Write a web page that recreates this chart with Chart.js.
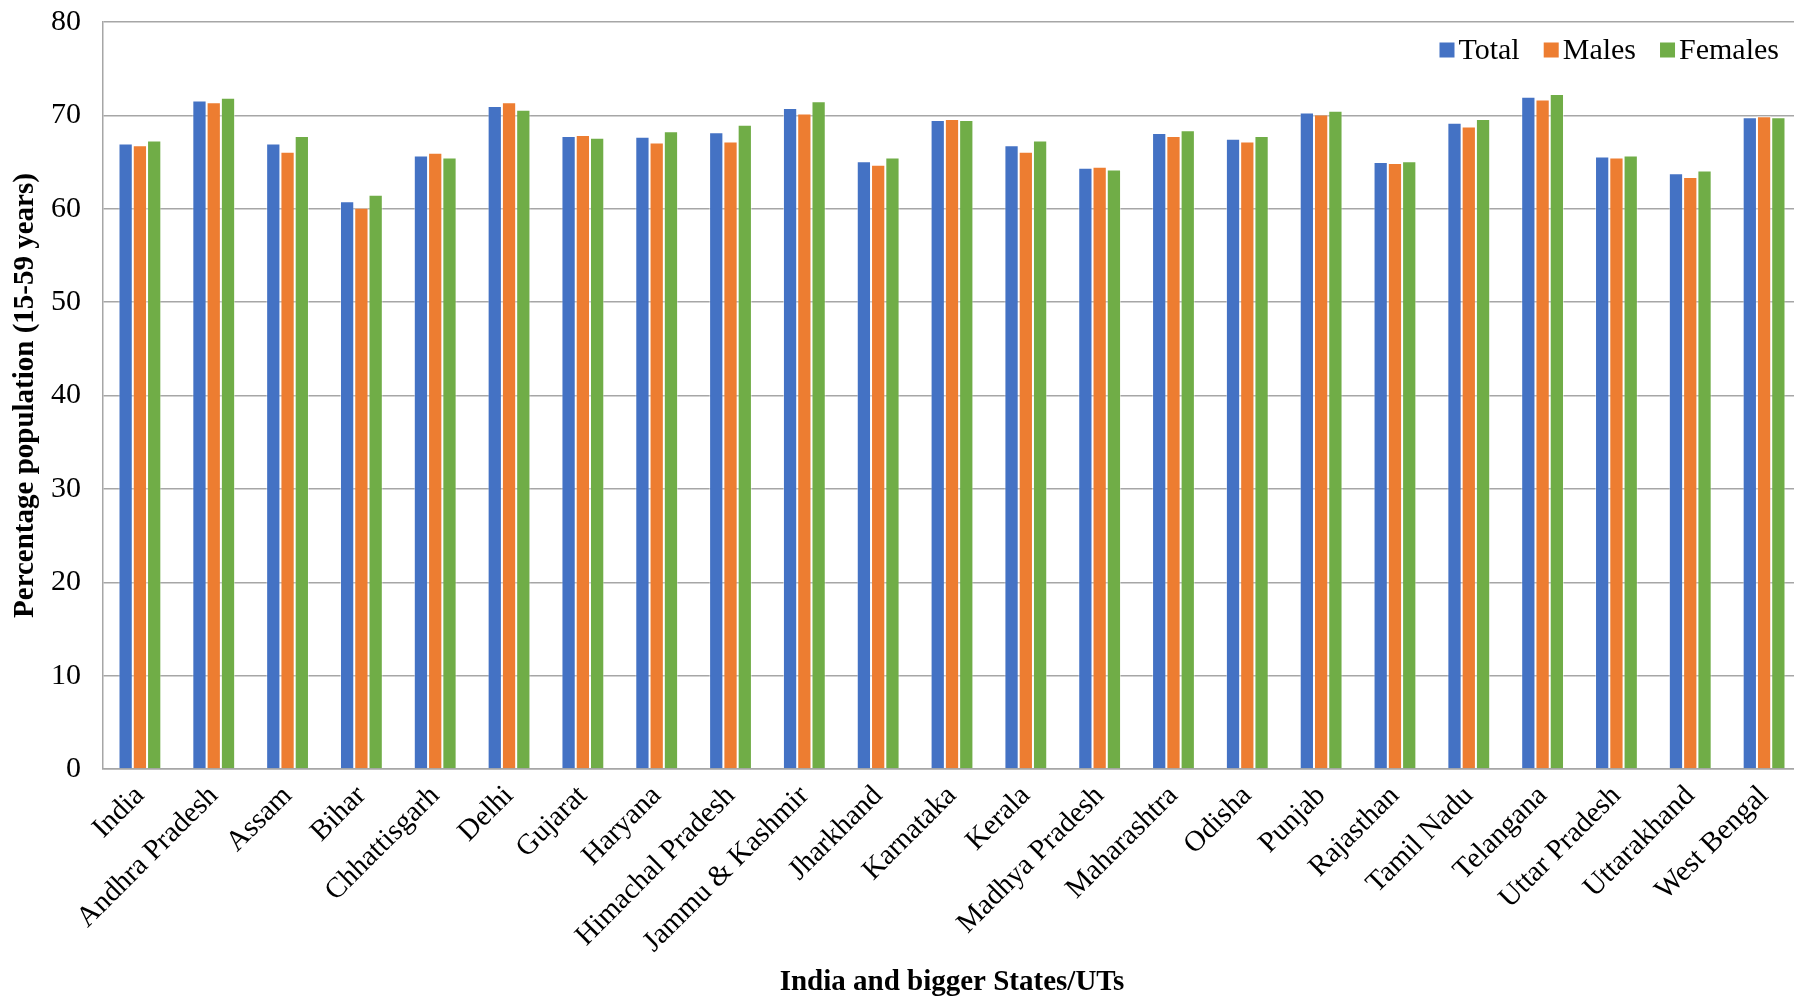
<!DOCTYPE html>
<html>
<head>
<meta charset="utf-8">
<script src="https://cdn.jsdelivr.net/npm/chart.js@4.4.1/dist/chart.umd.min.js"></script>
<style>
html,body{margin:0;padding:0;background:#fff;overflow:hidden;}
#wrap{width:1794px;height:998px;position:relative;overflow:hidden;}
</style>
</head>
<body>
<div id="wrap"><canvas id="c" width="1801" height="998"></canvas></div>
<script>
const categories = ["India","Andhra Pradesh","Assam","Bihar","Chhattisgarh","Delhi","Gujarat","Haryana","Himachal Pradesh","Jammu & Kashmir","Jharkhand","Karnataka","Kerala","Madhya Pradesh","Maharashtra","Odisha","Punjab","Rajasthan","Tamil Nadu","Telangana","Uttar Pradesh","Uttarakhand","West Bengal"];
const totalValues   = [67.0,71.6,67.0,60.8,65.7,71.0,67.8,67.7,68.2,70.8,65.1,69.5,66.8,64.4,68.1,67.5,70.3,65.0,69.2,72.0,65.6,63.8,69.8];
const maleValues    = [66.8,71.4,66.1,60.1,66.0,71.4,67.9,67.1,67.2,70.2,64.7,69.6,66.1,64.5,67.8,67.2,70.1,64.9,68.8,71.7,65.5,63.4,69.9];
const femaleValues  = [67.3,71.9,67.8,61.5,65.5,70.6,67.6,68.3,69.0,71.5,65.5,69.5,67.3,64.2,68.4,67.8,70.5,65.1,69.6,72.3,65.7,64.1,69.8];
const yTicks = [0,10,20,30,40,50,60,70,80];
const seriesNames = ["Total","Males","Females"];

const serif = "'Liberation Serif','Times New Roman',serif";
const gridColor = '#a6a6a6';

// Legend drawn inside the plot area, top-right, from the chart's datasets
const insideLegend = {
  id: 'insideLegend',
  afterDraw(chart) {
    const ctx = chart.ctx;
    const ds = chart.data.datasets;
    ctx.save();
    ctx.font = "30px " + serif;
    ctx.textBaseline = 'middle';
    ctx.textAlign = 'left';
    const cy = 50, box = 15, gapText = 4, gapItem = 24;
    let x = 1779;
    for (let i = ds.length - 1; i >= 0; i--) {
      const w = ctx.measureText(ds[i].label).width;
      x -= w;
      ctx.fillStyle = '#000';
      ctx.fillText(ds[i].label, x, cy + 1);
      x -= gapText + box;
      ctx.fillStyle = ds[i].backgroundColor;
      ctx.fillRect(x, cy - box / 2, box, box);
      x -= gapItem;
    }
    ctx.restore();
  }
};

new Chart(document.getElementById('c'), {
  type: 'bar',
  data: {
    labels: categories,
    datasets: [
      {label: seriesNames[0], data: totalValues, backgroundColor: '#4472C4'},
      {label: seriesNames[1], data: maleValues, backgroundColor: '#ED7D31'},
      {label: seriesNames[2], data: femaleValues, backgroundColor: '#70AD47'}
    ]
  },
  plugins: [insideLegend],
  options: {
    responsive: false,
    animation: false,
    devicePixelRatio: 1,
    datasets: {bar: {categoryPercentage: 0.58, barPercentage: 1.0, borderWidth: 1, borderColor: 'rgba(255,255,255,0.45)'}},
    layout: {padding: {left: 0, right: 0, top: 22, bottom: 0}},
    plugins: {
      tooltip: {enabled: false},
      legend: {display: false}
    },
    scales: {
      x: {
        grid: {display: false, drawTicks: false},
        border: {color: gridColor, width: 1.5},
        ticks: {
          font: {family: serif, size: 29},
          color: '#000',
          maxRotation: 45,
          minRotation: 45,
          autoSkip: false,
          padding: 10
        },
        title: {
          display: true,
          text: 'India and bigger States/UTs',
          font: {family: serif, size: 29, weight: 'bold'},
          color: '#000',
          padding: {top: 0, bottom: -2}
        },
        afterFit: (s) => { s.height = 229; s.paddingLeft = 0; s.paddingRight = 0; }
      },
      y: {
        min: 0,
        max: 80,
        afterBuildTicks: (s) => { s.ticks = yTicks.map(v => ({value: v})); },
        grid: {color: gridColor, lineWidth: 1.5, drawTicks: false},
        border: {color: gridColor, width: 1.5},
        ticks: {
          font: {family: serif, size: 30},
          color: '#000',
          padding: 22
        },
        title: {
          display: true,
          text: 'Percentage population (15-59 years)',
          font: {family: serif, size: 29, weight: 'bold'},
          color: '#000',
          padding: {top: 8, bottom: 0}
        },
        afterFit: (s) => { s.width = 103; s.paddingTop = 0; s.paddingBottom = 0; }
      }
    }
  }
});
</script>
</body>
</html>
